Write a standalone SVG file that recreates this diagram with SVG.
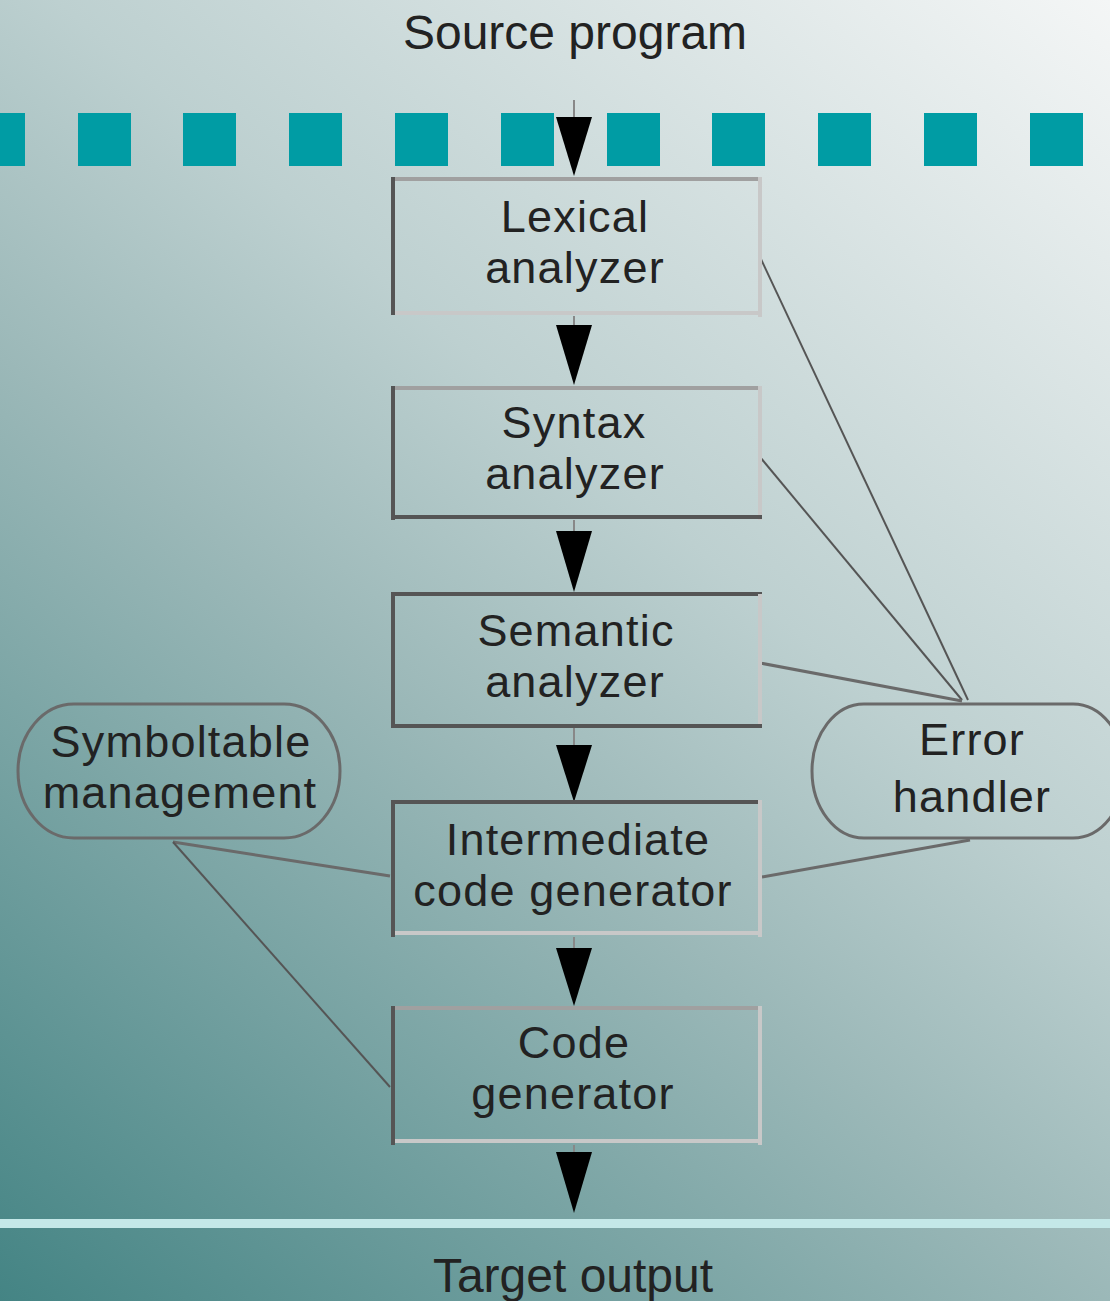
<svg xmlns="http://www.w3.org/2000/svg" width="1110" height="1301" viewBox="0 0 1110 1301">
  <defs>
    <linearGradient id="bg" gradientUnits="userSpaceOnUse" x1="0" y1="1301" x2="1110" y2="0">
      <stop offset="0" stop-color="#448484"/>
      <stop offset="0.42" stop-color="#9bb8b8"/>
      <stop offset="0.6" stop-color="#bdd0d0"/>
      <stop offset="1" stop-color="#f4f6f6"/>
    </linearGradient>
  </defs>
  <style>
    text { font-family: "Liberation Sans", Arial, sans-serif; font-size: 45px; letter-spacing: 1.2px; fill: #222222; text-anchor: middle; }
    text.big { font-size: 48px; letter-spacing: 0; }
    .dk { stroke: #555555; stroke-width: 4; }
    .md { stroke: #a0a0a0; stroke-width: 4; }
    .lt { stroke: #c8c8c8; stroke-width: 4; }
    .head { fill: #000000; }
    .stem { stroke: #888888; stroke-width: 2; }
    .conn { fill: none; stroke: #555555; stroke-width: 2; }
    .connb { fill: none; stroke: #6a6a6a; stroke-width: 3; }
    .oval { fill: none; stroke: #6a6a6a; stroke-width: 3; }
  </style>

  <rect x="0" y="0" width="1110" height="1301" fill="url(#bg)"/>

  <g id="separator-top" fill="#009ca4">
    <rect x="-28" y="113" width="53" height="53"/>
    <rect x="78" y="113" width="53" height="53"/>
    <rect x="183" y="113" width="53" height="53"/>
    <rect x="289" y="113" width="53" height="53"/>
    <rect x="395" y="113" width="53" height="53"/>
    <rect x="501" y="113" width="53" height="53"/>
    <rect x="607" y="113" width="53" height="53"/>
    <rect x="712" y="113" width="53" height="53"/>
    <rect x="818" y="113" width="53" height="53"/>
    <rect x="924" y="113" width="53" height="53"/>
    <rect x="1030" y="113" width="53" height="53"/>
  </g>
  <rect id="separator-bottom" x="0" y="1219" width="1110" height="9" fill="#c4e8e8"/>

  <g id="source-program"><text class="big" x="575" y="49">Source program</text></g>
  <g id="target-output"><text class="big" x="573" y="1292">Target output</text></g>

  <g id="connectors">
    <line class="conn" x1="760" y1="257" x2="968" y2="700" stroke="#333333"/>
    <line class="conn" x1="760" y1="457" x2="962" y2="700"/>
    <line class="connb" x1="760" y1="663" x2="962" y2="701"/>
    <line class="connb" x1="970" y1="840" x2="762" y2="877"/>
    <line class="connb" x1="173" y1="842" x2="390" y2="876"/>
    <line class="conn" x1="173" y1="842" x2="390" y2="1087" stroke="#666666"/>
    <line class="stem" x1="574" y1="100" x2="574" y2="118"/>
    <polygon class="head" points="556,117 592,117 574,176"/>
    <line class="stem" x1="574" y1="316" x2="574" y2="326"/>
    <polygon class="head" points="556,325 592,325 574,385"/>
    <line class="stem" x1="574" y1="520" x2="574" y2="532"/>
    <polygon class="head" points="556,531 592,531 574,592"/>
    <line class="stem" x1="574" y1="728" x2="574" y2="746"/>
    <polygon class="head" points="556,745 592,745 574,802"/>
    <line class="stem" x1="574" y1="937" x2="574" y2="949"/>
    <polygon class="head" points="556,948 592,948 574,1006"/>
    <line class="stem" x1="574" y1="1145" x2="574" y2="1153"/>
    <polygon class="head" points="556,1152 592,1152 574,1213"/>
  </g>

  <g id="lexical-analyzer">
    <line class="md" x1="391" y1="179" x2="762" y2="179"/>
    <line class="lt" x1="760" y1="177" x2="760" y2="317"/>
    <line class="lt" x1="391" y1="313" x2="762" y2="313"/>
    <line class="dk" x1="393" y1="177" x2="393" y2="315"/>
    <text x="575" y="232">Lexical</text>
    <text x="575" y="283">analyzer</text>
  </g>

  <g id="syntax-analyzer">
    <line class="md" x1="391" y1="388" x2="762" y2="388"/>
    <line class="lt" x1="760" y1="386" x2="760" y2="520"/>
    <line class="dk" x1="391" y1="517" x2="762" y2="517"/>
    <line class="dk" x1="393" y1="386" x2="393" y2="520"/>
    <text x="574" y="438">Syntax</text>
    <text x="575" y="489">analyzer</text>
  </g>

  <g id="semantic-analyzer">
    <line class="dk" x1="391" y1="594" x2="762" y2="594"/>
    <line class="lt" x1="760" y1="594" x2="760" y2="728"/>
    <line class="dk" x1="391" y1="726" x2="762" y2="726" stroke="#6e6e6e"/>
    <line class="dk" x1="393" y1="592" x2="393" y2="728"/>
    <text x="576" y="646">Semantic</text>
    <text x="575" y="697">analyzer</text>
  </g>

  <g id="intermediate-code-generator">
    <line class="dk" x1="391" y1="802" x2="762" y2="802"/>
    <line class="lt" x1="760" y1="800" x2="760" y2="937"/>
    <line class="lt" x1="391" y1="933" x2="762" y2="933"/>
    <line class="dk" x1="393" y1="800" x2="393" y2="937"/>
    <text x="578" y="855">Intermediate</text>
    <text x="573" y="906">code generator</text>
  </g>

  <g id="code-generator">
    <line class="md" x1="391" y1="1008" x2="762" y2="1008"/>
    <line class="lt" x1="760" y1="1006" x2="760" y2="1145"/>
    <line class="lt" x1="391" y1="1141" x2="762" y2="1141"/>
    <line class="dk" x1="393" y1="1006" x2="393" y2="1145"/>
    <text x="574" y="1058">Code</text>
    <text x="573" y="1109">generator</text>
  </g>

  <g id="symboltable-management">
    <path class="oval" d="M74,704 H284 A56,67 0 0 1 284,838 H74 A56,67 0 0 1 74,704 Z"/>
    <text x="181" y="757">Symboltable</text>
    <text x="180" y="808">management</text>
  </g>

  <g id="error-handler">
    <path class="oval" d="M864,704 H1073 A52,67 0 0 1 1073,838 H864 A52,67 0 0 1 864,704 Z"/>
    <text x="972" y="755">Error</text>
    <text x="972" y="812">handler</text>
  </g>
</svg>
